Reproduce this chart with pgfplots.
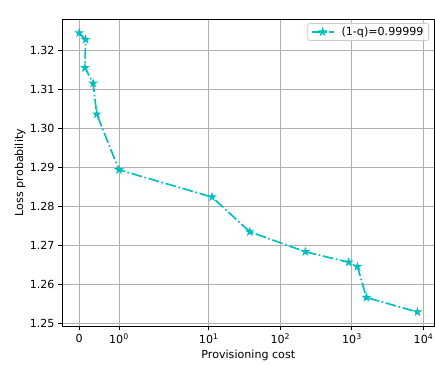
\documentclass[border=0pt]{standalone}
\usepackage{fontspec}
\setmainfont{DejaVu Sans}
\usepackage{pgfplots}
\pgfplotsset{compat=1.18}
\usepackage{pgfplotstable}
\definecolor{mc}{rgb}{0,0.75,0.75}
\pgfdeclareplotmark{mstar}{%
  \pgfpathmoveto{\pgfpoint{0bp}{3.333bp}}%
  \pgfpathlineto{\pgfpoint{-0.748bp}{1.030bp}}%
  \pgfpathlineto{\pgfpoint{-3.170bp}{1.030bp}}%
  \pgfpathlineto{\pgfpoint{-1.211bp}{-0.393bp}}%
  \pgfpathlineto{\pgfpoint{-1.959bp}{-2.697bp}}%
  \pgfpathlineto{\pgfpoint{0bp}{-1.273bp}}%
  \pgfpathlineto{\pgfpoint{1.959bp}{-2.697bp}}%
  \pgfpathlineto{\pgfpoint{1.211bp}{-0.393bp}}%
  \pgfpathlineto{\pgfpoint{3.170bp}{1.030bp}}%
  \pgfpathlineto{\pgfpoint{0.748bp}{1.030bp}}%
  \pgfpathclose
  \pgfusepathqfillstroke}
\pgfplotstableread{
x y
0 1.32449
0.16 1.32280
0.145 1.31557
0.35 1.31159
0.44 1.30369
1 1.28942
11.1 1.28244
37.5 1.27352
224 1.26842
903 1.26572
1194 1.26460
1596 1.25670
8222 1.25298
}\data
\newcommand{\mpl}{\fontsize{11.1bp}{13.3bp}\selectfont}
\begin{document}
\mpl
\begin{tikzpicture}
\begin{axis}[name=ax, scale only axis, width=372bp, height=307bp,
  xmin=-0.4725, xmax=9.9225, ymin=1.2494, ymax=1.32807,
  axis line style={line width=0.89bp},
  tick align=outside, tick pos=left, major tick length=3.89bp,
  every tick/.style={black, line width=0.89bp},
  xtick={0,1.111111,3.620161,5.620161,7.620161,9.620161},
  xticklabels={0,10\textsuperscript{0},10\textsuperscript{1},10\textsuperscript{2},10\textsuperscript{3},10\textsuperscript{4}},
  ytick={1.25,1.26,1.27,1.28,1.29,1.30,1.31,1.32},
  yticklabel style={/pgf/number format/.cd, fixed, fixed zerofill, precision=2},
  /pgf/number format/assume math mode=true,
  tick label style={font=\mpl},
  label style={font=\mpl},
  grid=major, major grid style={line width=0.89bp, color=black!31},
  xlabel={Provisioning cost}, ylabel={Loss probability},
  xlabel style={at={(axis description cs:0.5,-0.0945)}, anchor=center},
  ylabel style={at={(axis description cs:-0.1137,0.5)}, anchor=center},
  legend style={at={(axis description cs:1,1)}, anchor=north east, xshift=-5.3bp, yshift=-4bp,
    draw=black!20, line width=0.9bp, rounded corners=2bp, fill=white, fill opacity=0.8, draw opacity=1, text opacity=1,
    font=\mpl, inner ysep=1.5bp, /tikz/every odd column/.append style={column sep=5bp}},
  legend image code/.code={\draw[mark repeat=2,mark phase=2,#1] plot coordinates {(0bp,0bp) (11.1bp,0bp) (22.2bp,0bp)};},
]
\addplot[mc, line width=1.67bp, dash pattern=on 10.67bp off 2.67bp on 1.67bp off 2.67bp,
  mark=mstar, mark options={solid, fill=mc, line width=1.11bp}]
  table[x expr={\thisrow{x}<=2 ? 1.111111*\thisrow{x} : 2*(1.111111+ln(max(\thisrow{x},2)/2)/2.302585)}, y=y] {\data};
\addlegendentry{(1-q)=0.99999}
\node[anchor=south west, inner sep=0pt, yshift=3bp, font=\mpl] at (rel axis cs:0,1) {1e−9};
\end{axis}
\pgfresetboundingbox
\path[use as bounding box] ([xshift=-62.3bp,yshift=-40bp]ax.south west) rectangle ([xshift=0.7bp,yshift=19bp]ax.north east);
\end{tikzpicture}
\end{document}
